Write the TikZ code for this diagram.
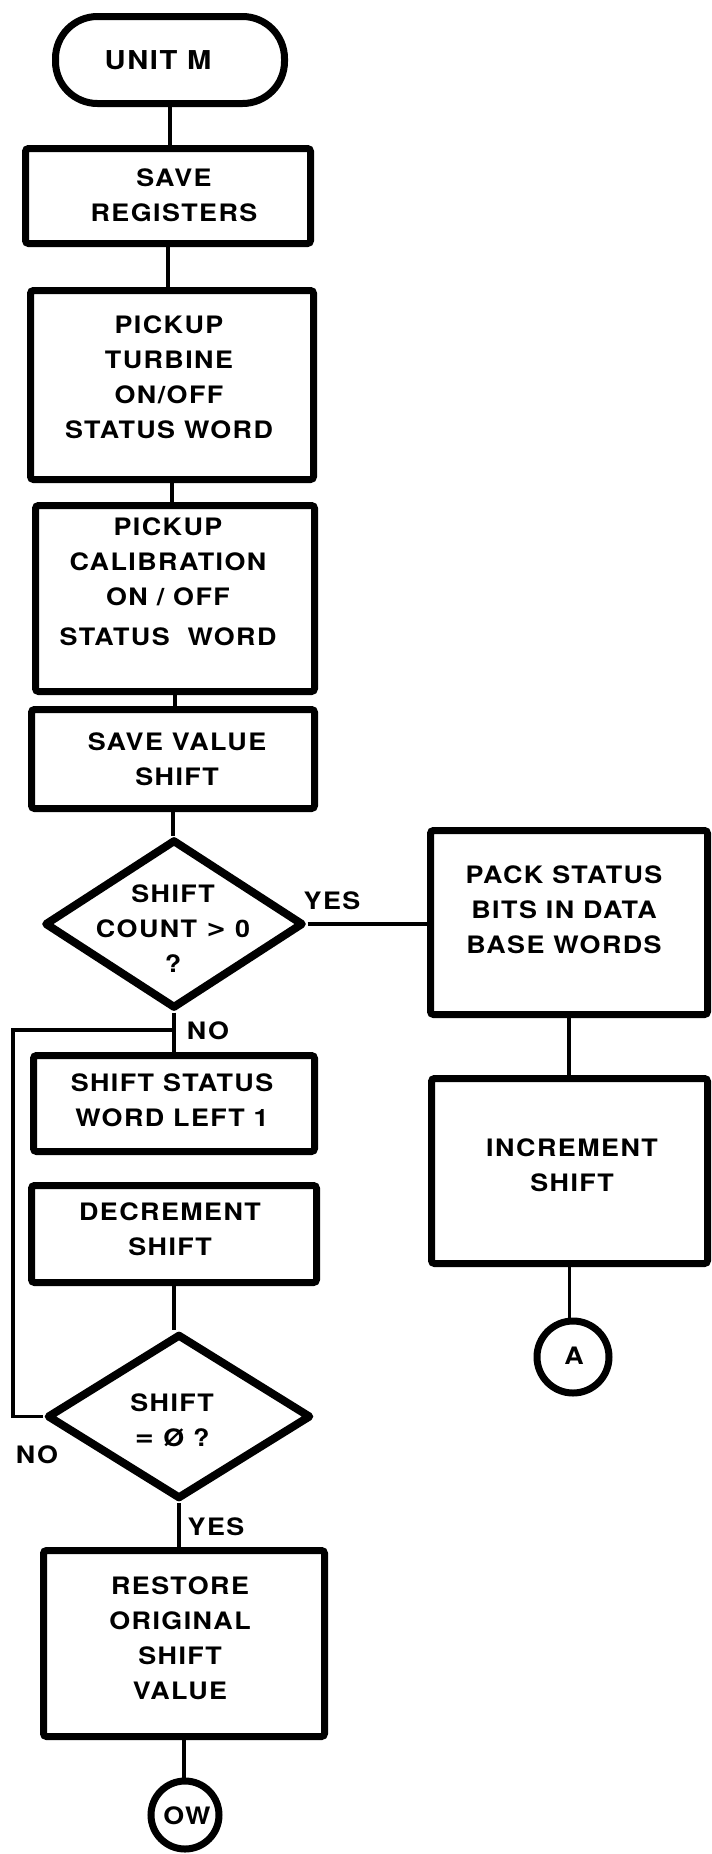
\documentclass[tikz,border=0pt]{standalone}
\usepackage{fontspec}
\newfontfamily\chartfont{TeX Gyre Heros}[FakeStretch=1.12,LetterSpace=6]
\newfontfamily\symfont{DejaVu Sans}
\usetikzlibrary{shapes.geometric}
\begin{document}
\begin{tikzpicture}[x=0.5pt,y=-0.5pt,
  box/.style={draw, line width=3.5pt, rounded corners=1.5pt, inner sep=0pt},
  term/.style={draw, line width=3.5pt, rounded corners=21pt, inner sep=0pt},
  dec/.style={draw, diamond, line width=4pt, line join=round, inner sep=0pt},
  conn/.style={draw, circle, line width=3.5pt, inner sep=0pt},
  txt/.style={font=\chartfont\bfseries\fontsize{12}{17.5}\selectfont, align=center, inner sep=0pt},
  lbl/.style={font=\chartfont\bfseries\fontsize{12}{14}\selectfont, inner sep=0pt},
  link/.style={line width=1.8pt}
]
\useasboundingbox (0,0) rectangle (712,1854);

% shapes
\node[term, minimum width=114.5pt, minimum height=43.5pt] (unit) at (170,60) {};
\node[box, minimum width=142.5pt, minimum height=47.5pt] (savereg) at (168,196) {};
\node[box, minimum width=141.5pt, minimum height=94.5pt] (turb) at (172,385) {};
\node[box, minimum width=139.5pt, minimum height=93pt] (calib) at (175,598.5) {};
\node[box, minimum width=141.5pt, minimum height=49.5pt] (saveval) at (173,759) {};
\node[dec, minimum width=129.5pt, minimum height=84.5pt] (d1) at (174,924) {};
\node[box, minimum width=138.5pt, minimum height=92pt] (pack) at (569,922.5) {};
\node[box, minimum width=138pt, minimum height=92.5pt] (incr) at (569.5,1171) {};
\node[conn, minimum size=36pt] (ca) at (573,1357) {};
\node[box, minimum width=140.5pt, minimum height=48pt] (sstat) at (174,1103.5) {};
\node[box, minimum width=142.5pt, minimum height=48.5pt] (decr) at (174,1234) {};
\node[dec, minimum width=132pt, minimum height=82.5pt] (d2) at (179,1416.5) {};
\node[box, minimum width=140.5pt, minimum height=93pt] (rest) at (184,1643.5) {};
\node[conn, minimum size=34pt] (cow) at (185,1815) {};

% texts
\node[txt, font=\chartfont\bfseries\fontsize{13}{15}\selectfont] (t1) at (158,60) {UNIT M};
\node[txt] (t2) at (174,195) {SAVE\\REGISTERS};
\node[txt] (t3) at (169,377) {PICKUP\\TURBINE\\ON/OFF\\STATUS WORD};
\node[txt] (t4) at (168,582) {PICKUP\\CALIBRATION\\ON / OFF\\[2.5pt]STATUS~~WORD};
\node[txt] (t5) at (177,759.5) {SAVE VALUE\\SHIFT};
\node[txt] (t6) at (173,929) {SHIFT\\COUNT {\symfont\bfseries >} 0\\?};
\node[txt] (t7) at (564,910) {PACK STATUS\\BITS IN DATA\\BASE WORDS};
\node[txt] (t8) at (572,1165) {INCREMENT\\SHIFT};
\node[txt] (t9) at (574,1356) {A};
\node[txt] (t10) at (172,1100) {SHIFT STATUS\\WORD LEFT 1};
\node[txt] (t11) at (170,1229) {DECREMENT\\SHIFT};
\node[txt] (t12) at (172,1420) {SHIFT\\{\symfont\bfseries =} Ø ?};
\node[txt] (t13) at (180,1638) {RESTORE\\ORIGINAL\\SHIFT\\VALUE};
\node[txt] (t14) at (187,1816) {OW};

% labels
\node[lbl] (yes1) at (332,901) {YES};
\node[lbl] (no1) at (208,1031) {NO};
\node[lbl] (no2) at (37,1455) {NO};
\node[lbl] (yes2) at (216,1527) {YES};

% connectors
\draw[link] (unit.south) -- (unit.south |- savereg.north);
\draw[link] (savereg.south) -- (savereg.south |- turb.north);
\draw[link] (turb.south) -- (turb.south |- calib.north);
\draw[link] (calib.south) -- (calib.south |- saveval.north);
\draw[link] (saveval.south) -- (saveval.south |- d1.north);
\draw[link] (d1.east) -- (d1.east -| pack.west);
\draw[link] (pack.south) -- (pack.south |- incr.north);
\draw[link] (incr.south) -- (incr.south |- ca.north);
\draw[link] (d1.south) -- (d1.south |- sstat.north);
\draw[link] (decr.south) -- (decr.south |- d2.north);
\coordinate (lp) at (13,1030);
\coordinate (j) at (d1.south |- lp);
\draw[link] (d2.west) -- (d2.west -| lp) -- (lp) -- (j);
\draw[link] (d2.south) -- (d2.south |- rest.north);
\draw[link] (rest.south) -- (rest.south |- cow.north);
\end{tikzpicture}
\end{document}
